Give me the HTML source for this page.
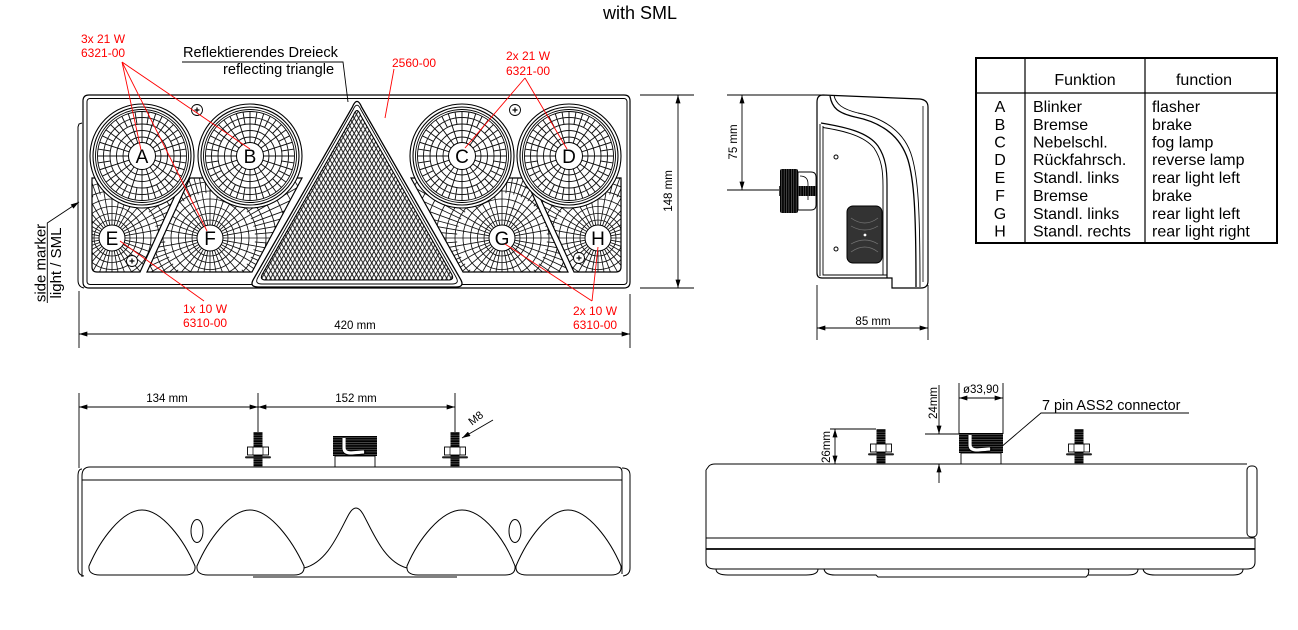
<!DOCTYPE html>
<html><head><meta charset="utf-8"><title>Lamp drawing with SML</title>
<style>
html,body{margin:0;padding:0;background:#fff;width:1298px;height:630px;overflow:hidden}
svg{display:block}
text{font-family:"Liberation Sans",Arial,sans-serif;fill:#000}
.r{fill:#f00}
</style></head><body>
<svg xmlns="http://www.w3.org/2000/svg" width="1298" height="630" viewBox="0 0 1298 630">
<defs>
<marker id="ar" viewBox="0 0 10 6" refX="10" refY="3" markerWidth="9" markerHeight="5" markerUnits="userSpaceOnUse" orient="auto-start-reverse"><path d="M0 0L10 3L0 6z" fill="#000"/></marker>
<pattern id="hatch" width="4.4" height="7.62" patternUnits="userSpaceOnUse"><path d="M0 0L4.4 7.62M4.4 0L0 7.62" stroke="#111" stroke-width="0.95" fill="none"/></pattern>
<pattern id="thr" width="6" height="2.4" patternUnits="userSpaceOnUse"><rect width="6" height="2.4" fill="#000"/><rect y="1.5" width="6" height="0.5" fill="#888"/></pattern>
<pattern id="thrv" width="2.4" height="6" patternUnits="userSpaceOnUse"><rect width="2.4" height="6" fill="#000"/><rect x="1.5" width="0.5" height="6" fill="#888"/></pattern>
<path id="d2" d="M-44.5 0H-13M13 0H44.5"/>
<path id="d2o" d="M-44.5 0H-32M32 0H44.5"/>
<g id="lweb" fill="none" stroke="#111" stroke-width="0.95">
<circle r="19"/><circle r="25.5"/><circle r="32"/><circle r="38.5"/>
<use href="#d2"/><use href="#d2" transform="rotate(18)"/><use href="#d2" transform="rotate(36)"/><use href="#d2" transform="rotate(54)"/><use href="#d2" transform="rotate(72)"/><use href="#d2" transform="rotate(90)"/><use href="#d2" transform="rotate(108)"/><use href="#d2" transform="rotate(126)"/><use href="#d2" transform="rotate(144)"/><use href="#d2" transform="rotate(162)"/>
<g transform="rotate(9)"><use href="#d2o"/><use href="#d2o" transform="rotate(18)"/><use href="#d2o" transform="rotate(36)"/><use href="#d2o" transform="rotate(54)"/><use href="#d2o" transform="rotate(72)"/><use href="#d2o" transform="rotate(90)"/><use href="#d2o" transform="rotate(108)"/><use href="#d2o" transform="rotate(126)"/><use href="#d2o" transform="rotate(144)"/><use href="#d2o" transform="rotate(162)"/></g>
</g>
<path id="p2" d="M-130 0H-12M12 0H130"/>
<path id="p2o" d="M-130 0H-45M45 0H130"/>
<g id="pweb" fill="none" stroke="#111" stroke-width="0.85">
<circle r="18"/><circle r="24.5"/><circle r="31.5"/><circle r="39"/><circle r="47"/><circle r="56"/><circle r="66"/><circle r="77"/><circle r="89"/><circle r="102"/><circle r="116"/>
<use href="#p2"/><use href="#p2" transform="rotate(10)"/><use href="#p2" transform="rotate(20)"/><use href="#p2" transform="rotate(30)"/><use href="#p2" transform="rotate(40)"/><use href="#p2" transform="rotate(50)"/><use href="#p2" transform="rotate(60)"/><use href="#p2" transform="rotate(70)"/><use href="#p2" transform="rotate(80)"/><use href="#p2" transform="rotate(90)"/><use href="#p2" transform="rotate(100)"/><use href="#p2" transform="rotate(110)"/><use href="#p2" transform="rotate(120)"/><use href="#p2" transform="rotate(130)"/><use href="#p2" transform="rotate(140)"/><use href="#p2" transform="rotate(150)"/><use href="#p2" transform="rotate(160)"/><use href="#p2" transform="rotate(170)"/>
<g transform="rotate(5)"><use href="#p2o"/><use href="#p2o" transform="rotate(10)"/><use href="#p2o" transform="rotate(20)"/><use href="#p2o" transform="rotate(30)"/><use href="#p2o" transform="rotate(40)"/><use href="#p2o" transform="rotate(50)"/><use href="#p2o" transform="rotate(60)"/><use href="#p2o" transform="rotate(70)"/><use href="#p2o" transform="rotate(80)"/><use href="#p2o" transform="rotate(90)"/><use href="#p2o" transform="rotate(100)"/><use href="#p2o" transform="rotate(110)"/><use href="#p2o" transform="rotate(120)"/><use href="#p2o" transform="rotate(130)"/><use href="#p2o" transform="rotate(140)"/><use href="#p2o" transform="rotate(150)"/><use href="#p2o" transform="rotate(160)"/><use href="#p2o" transform="rotate(170)"/></g>
</g>
<clipPath id="cl"><circle r="44.5"/></clipPath>
<clipPath id="cp1"><path d="M92 178 L183 178 L140 272 L97 272 Q92 272 92 267 Z"/></clipPath>
<clipPath id="cp2"><path d="M190 178 L302 178 L252 272 L147 272 Z"/></clipPath>
<clipPath id="cp3"><path d="M411 178 L525 178 L568 272 L463 272 Z"/></clipPath>
<clipPath id="cp4"><path d="M531 178 L621 178 L621 267 Q621 272 616 272 L574 272 Z"/></clipPath>
<g id="lampring" fill="none" stroke="#000">
<circle r="52" fill="#fff" stroke-width="1.1"/><circle r="49" stroke-width="1.1"/><circle r="46.5" stroke-width="0.9"/><circle r="44.5" stroke-width="0.9"/>
</g>
<g id="screw"><circle r="5.5" fill="#fff" stroke="#000" stroke-width="0.9"/><path d="M-2.5 0H2.5M0 -2.5V2.5" stroke="#000" stroke-width="1.2"/></g>
<g id="bolt">
<rect x="-4.5" y="-35" width="9" height="35" fill="url(#thr)"/>
<rect x="-10.5" y="-20" width="21" height="8" fill="#fff" stroke="#000" stroke-width="0.9"/>
<path d="M-5 -20V-12M5 -20V-12" stroke="#000" stroke-width="0.7"/>
<rect x="-4.5" y="-12" width="9" height="12" fill="url(#thr)"/>
<rect x="-13" y="-10.8" width="26" height="2.2" rx="1.1" fill="#222"/>
</g>
<g id="conn">
<rect x="-22" y="-31" width="44" height="20" fill="url(#thr)"/>
<path d="M-11 -29 L-11 -19 Q-11 -14 -4 -14 L9 -15" fill="none" stroke="#fff" stroke-width="3.2"/>
<path d="M-13 -29 L-13 -19 Q-13 -12 -4 -12 L9 -13 Q12 -14 10 -17" fill="none" stroke="#000" stroke-width="0.7"/>
<rect x="-20" y="-11" width="40" height="11" fill="#fff" stroke="#000" stroke-width="0.9"/>
</g>
</defs>

<!-- Title -->
<text x="603" y="19" font-size="18">with SML</text>

<!-- ============ FRONT VIEW ============ -->
<path d="M82 123 L79 124 L78 127 L78 280 Q78 287 84 288" fill="none" stroke="#000" stroke-width="1"/>
<path d="M83 101 Q83 95 89 95 L624 95 Q630 95 630 101 L630 282 Q630 288 624 288 L89 288 Q83 288 83 282 Z" fill="#fff" stroke="#000" stroke-width="1.2"/>
<rect x="87" y="98.5" width="540" height="186" rx="3" fill="none" stroke="#000" stroke-width="1"/>

<!-- lower panes -->
<g clip-path="url(#cp1)"><use href="#pweb" transform="translate(112,238)"/></g>
<g clip-path="url(#cp2)"><use href="#pweb" transform="translate(210,238)"/></g>
<g clip-path="url(#cp3)"><use href="#pweb" transform="translate(502,238)"/></g>
<g clip-path="url(#cp4)"><use href="#pweb" transform="translate(598,238)"/></g>
<g fill="none" stroke="#000" stroke-width="1.2">
<path d="M92 178 L183 178 L140 272 L97 272 Q92 272 92 267 Z"/>
<path d="M190 178 L302 178 L252 272 L147 272 Z"/>
<path d="M411 178 L525 178 L568 272 L463 272 Z"/>
<path d="M531 178 L621 178 L621 267 Q621 272 616 272 L574 272 Z"/>
</g>

<!-- round lamps -->
<g transform="translate(142,156)"><use href="#lampring"/><g clip-path="url(#cl)"><use href="#lweb"/></g><circle r="13.5" fill="#fff" stroke="#000"/><text y="7" text-anchor="middle" font-size="19">A</text></g>
<g transform="translate(250,156)"><use href="#lampring"/><g clip-path="url(#cl)"><use href="#lweb"/></g><circle r="13.5" fill="#fff" stroke="#000"/><text y="7" text-anchor="middle" font-size="19">B</text></g>
<g transform="translate(462,156)"><use href="#lampring"/><g clip-path="url(#cl)"><use href="#lweb"/></g><circle r="13.5" fill="#fff" stroke="#000"/><text y="7" text-anchor="middle" font-size="19">C</text></g>
<g transform="translate(569,156)"><use href="#lampring"/><g clip-path="url(#cl)"><use href="#lweb"/></g><circle r="13.5" fill="#fff" stroke="#000"/><text y="7" text-anchor="middle" font-size="19">D</text></g>

<!-- small labels -->
<g transform="translate(112,238)"><circle r="13" fill="#fff" stroke="#000"/><text y="7" text-anchor="middle" font-size="19">E</text></g>
<g transform="translate(210,238)"><circle r="13" fill="#fff" stroke="#000"/><text y="7" text-anchor="middle" font-size="19">F</text></g>
<g transform="translate(502,238)"><circle r="13" fill="#fff" stroke="#000"/><text y="7" text-anchor="middle" font-size="19">G</text></g>
<g transform="translate(598,238)"><circle r="13" fill="#fff" stroke="#000"/><text y="7" text-anchor="middle" font-size="19">H</text></g>

<!-- triangle -->
<path d="M352.5 106.8 Q357 96 361.5 106.8 L460.5 279.2 Q465 287 456 287 L258 287 Q249 287 253.5 279.2 Z" fill="#fff" stroke="#000" stroke-width="1.3"/>
<path d="M353 109.9 Q357 100.5 361 109.9 L456 277.1 Q460 284 452 284 L262 284 Q254 284 258 277.1 Z" fill="none" stroke="#000" stroke-width="0.9"/>
<path d="M353.5 115.1 Q357 106 360.5 115.1 L451.5 273.9 Q455 280 448 280 L266 280 Q259 280 262.5 273.9 Z" fill="url(#hatch)" stroke="#000" stroke-width="1.1"/>

<!-- screws -->
<use href="#screw" transform="translate(197,110)"/>
<use href="#screw" transform="translate(515,110)"/>
<use href="#screw" transform="translate(132,261)"/>
<use href="#screw" transform="translate(579,258)"/>

<!-- annotations front -->
<text class="r" x="81" y="43" font-size="12">3x 21 W</text>
<text class="r" x="81" y="57" font-size="12">6321-00</text>
<g stroke="#f00" stroke-width="0.9" fill="none">
<path d="M122 62 L141 150 M122 62 L207 231 M122 62 L250 149"/>
<path d="M394 69 L385 118"/>
<path d="M525 78 L465 148 M525 78 L567 149"/>
<path d="M120 241 L204 301"/>
<path d="M592 301 L505 244 M592 301 L598 247"/>
</g>
<text x="183" y="57" font-size="14.6">Reflektierendes Dreieck</text>
<text x="223" y="74" font-size="14.6">reflecting triangle</text>
<path d="M182 62 L343 62 L348 102" fill="none" stroke="#000" stroke-width="0.9"/>
<text class="r" x="392" y="67" font-size="12">2560-00</text>
<text class="r" x="506" y="60" font-size="12">2x 21 W</text>
<text class="r" x="506" y="75" font-size="12">6321-00</text>
<text class="r" x="183" y="313" font-size="12">1x 10 W</text>
<text class="r" x="183" y="327" font-size="12">6310-00</text>
<text class="r" x="573" y="315" font-size="12">2x 10 W</text>
<text class="r" x="573" y="329" font-size="12">6310-00</text>

<!-- side marker label -->
<text transform="translate(45.5,263) rotate(-90)" text-anchor="middle" font-size="15">side marker</text>
<text transform="translate(61,263) rotate(-90)" text-anchor="middle" font-size="15">light / SML</text>
<path d="M47.3 303 L47.3 223 L79 202" fill="none" stroke="#000" stroke-width="0.9" marker-end="url(#ar)"/>

<!-- dims front -->
<g stroke="#000" stroke-width="0.9" fill="none">
<path d="M79 291 V348 M630 294 V348"/>
<line x1="79" y1="334" x2="630" y2="334" marker-start="url(#ar)" marker-end="url(#ar)"/>
<path d="M640 95 H694 M640 288 H694"/>
<line x1="678" y1="95" x2="678" y2="288" marker-start="url(#ar)" marker-end="url(#ar)"/>
</g>
<text x="355" y="329" text-anchor="middle" font-size="11.5">420 mm</text>
<text transform="translate(672,191) rotate(-90)" text-anchor="middle" font-size="11.5">148 mm</text>

<!-- ============ SIDE VIEW ============ -->
<g stroke="#000" stroke-width="0.9" fill="none">
<path d="M727 95 H827 M727 190 H779"/>
<line x1="742" y1="95" x2="742" y2="190" marker-start="url(#ar)" marker-end="url(#ar)"/>
<path d="M817 285 V340 M928 285 V340"/>
<line x1="817" y1="328" x2="928" y2="328" marker-start="url(#ar)" marker-end="url(#ar)"/>
</g>
<text transform="translate(737,142) rotate(-90)" text-anchor="middle" font-size="11.5">75 mm</text>
<text x="873" y="325" text-anchor="middle" font-size="11.5">85 mm</text>

<path d="M817 102 Q817 95 823 95 L920 99 Q928 100 928 107 L928 281 Q928 288 921 288 L892 288 L892 278 L822 278 Q817 278 817 273 Z" fill="#fff" stroke="#000" stroke-width="1.2"/>
<g fill="none" stroke="#000">
<path d="M820 124 L820 276 M823 126 L823 275 L887 275" stroke-width="0.9"/>
<path d="M821 123 C845 127, 868 132, 878 146 C886 158, 887 170, 887 185 L887 278" stroke-width="1.2"/>
<path d="M823 127.5 C845 131, 864 136, 874 148 C882 160, 883 172, 883 186 L883 275" stroke-width="0.9"/>
<path d="M830 96 C832 108, 838 113, 855 117 C880 122, 900 135, 908 160 C914 180, 916 210, 916 287" stroke-width="1.3"/>
<path d="M834 95.5 C836 104, 842 109, 858 113 C884 118, 905 132, 912 157 C918 178, 920 208, 920 287" stroke-width="0.9"/>
<path d="M923 106 L923 282" stroke-width="0.8"/>
</g>
<circle cx="836" cy="157" r="2" fill="#fff" stroke="#000"/>
<circle cx="836" cy="249" r="2" fill="#fff" stroke="#000"/>
<rect x="847" y="206" width="35" height="57" rx="6" fill="#333" stroke="#000"/>
<path d="M851 218 Q865 228 878 218 M851 226 Q865 234 878 226 M851 244 Q865 236 878 244 M851 252 Q865 242 878 252" fill="none" stroke="#777" stroke-width="0.7"/>
<circle cx="865" cy="235" r="1.4" fill="#fff"/>
<!-- side connector -->
<rect x="780" y="169" width="18" height="44" rx="2" fill="url(#thrv)"/>
<path d="M798 172 L811 172 Q816 172 816 177 L816 205 Q816 210 811 210 L798 210 Z" fill="#fff" stroke="#000" stroke-width="0.9"/>
<path d="M800 176 Q808 176 808 184 L808 200" fill="none" stroke="#000" stroke-width="0.8"/>
<rect x="779" y="186" width="38" height="10" fill="url(#thrv)"/>

<!-- ============ TABLE ============ -->
<rect x="976" y="58" width="301" height="185" fill="#fff" stroke="#000" stroke-width="2"/>
<path d="M976 93 H1277 M1025 58 V243 M1145 58 V243" stroke="#000" stroke-width="1.2"/>
<text x="1085" y="85" text-anchor="middle" font-size="16">Funktion</text>
<text x="1204" y="85" text-anchor="middle" font-size="16">function</text>
<g font-size="16">
<text x="1000" y="112" text-anchor="middle">A</text><text x="1033" y="112">Blinker</text><text x="1152" y="112">flasher</text>
<text x="1000" y="130" text-anchor="middle">B</text><text x="1033" y="130">Bremse</text><text x="1152" y="130">brake</text>
<text x="1000" y="147.5" text-anchor="middle">C</text><text x="1033" y="147.5">Nebelschl.</text><text x="1152" y="147.5">fog lamp</text>
<text x="1000" y="165" text-anchor="middle">D</text><text x="1033" y="165">Rückfahrsch.</text><text x="1152" y="165">reverse lamp</text>
<text x="1000" y="183" text-anchor="middle">E</text><text x="1033" y="183">Standl. links</text><text x="1152" y="183">rear light left</text>
<text x="1000" y="201" text-anchor="middle">F</text><text x="1033" y="201">Bremse</text><text x="1152" y="201">brake</text>
<text x="1000" y="219" text-anchor="middle">G</text><text x="1033" y="219">Standl. links</text><text x="1152" y="219">rear light left</text>
<text x="1000" y="236.5" text-anchor="middle">H</text><text x="1033" y="236.5">Standl. rechts</text><text x="1152" y="236.5">rear light right</text>
</g>

<!-- ============ BOTTOM LEFT VIEW ============ -->
<g stroke="#000" stroke-width="0.9" fill="none">
<path d="M79 393 V468 M258 393 V432 M455 393 V432"/>
<line x1="79" y1="407" x2="258" y2="407" marker-start="url(#ar)" marker-end="url(#ar)"/>
<line x1="258" y1="407" x2="455" y2="407" marker-start="url(#ar)" marker-end="url(#ar)"/>
<line x1="493" y1="420" x2="462" y2="438" marker-end="url(#ar)"/>
</g>
<text x="167" y="402" text-anchor="middle" font-size="11.5">134 mm</text>
<text x="356" y="402" text-anchor="middle" font-size="11.5">152 mm</text>
<text transform="translate(478,421) rotate(-38)" text-anchor="middle" font-size="11">M8</text>

<use href="#bolt" transform="translate(258,467)"/>
<use href="#bolt" transform="translate(455,467)"/>
<use href="#conn" transform="translate(355,467)"/>

<g fill="none" stroke="#000" stroke-width="1">
<path d="M82 469 Q78 469 78 476 L78 569 Q78 575 84 576"/>
<path d="M82 577 L82 476 Q82 467 90 467 L617 467 Q622 467 622 472 L622 574"/>
<path d="M622 468 Q630 468 630 475 L630 568 Q630 575 623 576"/>
<path d="M82 480 H622"/>
<path d="M253 577 H457"/>
</g>
<g fill="#fff" stroke="#000" stroke-width="1">
<path d="M89 566 C100 540, 122 510, 142 510 C162 510, 184 540, 195 566 Q196 575 185 575 L100 575 Q88 575 89 566 Z"/>
<path d="M197 566 C208 540, 230 510, 250 510 C270 510, 292 540, 304 566 Q305 575 294 575 L208 575 Q196 575 197 566 Z"/>
<path d="M407 566 C418 540, 441 510, 462 510 C483 510, 505 540, 515 566 Q516 575 505 575 L418 575 Q406 575 407 566 Z"/>
<path d="M516 566 C527 540, 548 510, 568 510 C588 510, 610 540, 621 566 Q622 575 611 575 L527 575 Q515 575 516 566 Z"/>
</g>
<path d="M304 568 C328 562, 339 532, 349 514 Q356 502 363 514 C373 532, 384 562, 407 568" fill="none" stroke="#000" stroke-width="1"/>
<ellipse cx="197" cy="531" rx="6" ry="11.5" fill="#fff" stroke="#000"/>
<ellipse cx="515" cy="531" rx="6" ry="11.5" fill="#fff" stroke="#000"/>

<!-- ============ BOTTOM RIGHT VIEW ============ -->
<g stroke="#000" stroke-width="0.9" fill="none">
<path d="M830 429 H876"/>
<line x1="835" y1="429" x2="835" y2="464" marker-start="url(#ar)" marker-end="url(#ar)"/>
<path d="M925 434 H959"/>
<line x1="939" y1="385" x2="939" y2="434" marker-end="url(#ar)"/>
<line x1="939" y1="483" x2="939" y2="464" marker-end="url(#ar)"/>
<path d="M959 383 V434 M1003 383 V434"/>
<line x1="959" y1="398" x2="1003" y2="398" marker-start="url(#ar)" marker-end="url(#ar)"/>
<path d="M1189 413 H1041 L1000 448"/>
</g>
<text transform="translate(830,447) rotate(-90)" text-anchor="middle" font-size="11.5">26mm</text>
<text transform="translate(937,403) rotate(-90)" text-anchor="middle" font-size="11.5">24mm</text>
<text x="963" y="393" font-size="11.5">ø33,90</text>
<text x="1042" y="410" font-size="14.4">7 pin ASS2 connector</text>

<use href="#bolt" transform="translate(881,464)"/>
<use href="#bolt" transform="translate(1079,464)"/>
<use href="#conn" transform="translate(981,464)"/>

<g fill="none" stroke="#000" stroke-width="1">
<path d="M706 470 L709 466 Q711 464 715 464 L1247 464"/>
<path d="M706 470 L706 562 Q706 569 715 569 L1247 569 Q1255 569 1255 562 L1255 538"/>
<rect x="1247" y="466" width="10" height="71" rx="4" fill="#fff"/>
<path d="M706 538 H1255"/>
<path d="M706 549 H1255" stroke-width="1.8"/>
<path d="M716 569 Q716 575 728 575 L806 575 Q818 575 818 569"/>
<path d="M824 569 Q825 575 835 575 L876 575 L878 577 L1086 577 L1088 575 Q1090 569 1087 569"/>
<path d="M1088 575 L1128 575 Q1138 575 1138 569"/>
<path d="M1143 569 Q1144 575 1155 575 L1233 575 Q1243 575 1243 569"/>
</g>
</svg>
</body></html>
